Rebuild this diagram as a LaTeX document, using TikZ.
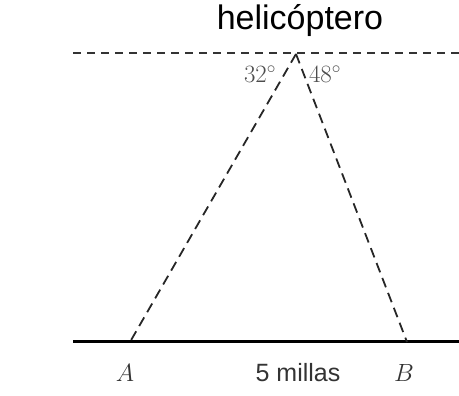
\documentclass[tikz,border=0pt]{standalone}
\usepackage{fontspec}
\setsansfont{Liberation Sans}
\usepackage{tikz}
\usetikzlibrary{positioning,calc}
\tikzset{
  % Sight lines and reference lines
  sight/.style={draw=black!85,line width=1.8pt,dash pattern=on 10pt off 6pt},
  horiz/.style={draw=black!80,line width=1.8pt,dash pattern=on 8pt off 6pt},
  ground/.style={draw=black,line width=3pt},
  % Labels
  lbl/.style={font=\fontsize{25}{28}\selectfont,text=black!80,inner sep=1pt},
  anglb/.style={font=\fontsize{23}{26}\selectfont,text=black!70,inner sep=1pt},
  ttl/.style={font=\sffamily\fontsize{34}{38}\selectfont,inner sep=1pt}
}
\begin{document}
\begin{tikzpicture}[x=1pt,y=-1pt]
  \useasboundingbox (0,0) rectangle (459,396);
  % Points
  \coordinate (hl) at (73,53);
  \coordinate (hr) at (459,53);
  \coordinate (H)  at (296,54);
  \coordinate (gl) at (73,342);
  \coordinate (gr) at (459,342);
  \coordinate (A)  at (130,342);
  \coordinate (B)  at (407,342);

  % Lines
  \draw[horiz] (hl) -- (hr);
  \draw[ground] (gl) -- (gr);
  \draw[sight] (H) -- (A);
  \draw[sight] (H) -- (B);

  % Labels
  \node[ttl] (heli) at (300,21) {helicóptero};
  \node[anglb] (a32) at (260,74) {$32^\circ$};
  \node[anglb] (a48) at (325,74) {$48^\circ$};
  \node[lbl] (la) at (125,373) {$A$};
  \node[lbl] (lb) at (404,373) {$B$};
  \node[font=\sffamily\fontsize{25}{28}\selectfont,text=black!80] (dist) at (298,373) {5 millas};
\end{tikzpicture}
\end{document}
